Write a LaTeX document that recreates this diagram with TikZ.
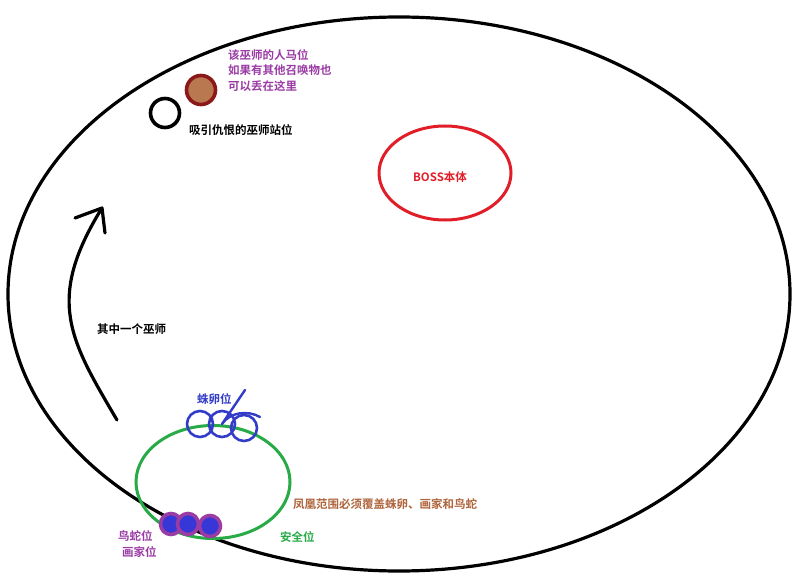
\documentclass[tikz,border=0pt]{standalone}
\usepackage{fontspec}
\setmainfont{Noto Sans CJK SC}[BoldFont={Noto Sans CJK SC Bold}]
\usepackage{tikz}
\usetikzlibrary{%
  positioning
 ,calc
 ,shapes.geometric
}
\definecolor{bossred}{RGB}{225,30,40}
\definecolor{safegreen}{RGB}{40,170,70}
\definecolor{eggblue}{RGB}{50,60,200}
\definecolor{birdblue}{RGB}{55,55,215}
\definecolor{petpurple}{RGB}{155,60,165}
\definecolor{petbrown}{RGB}{185,120,80}
\definecolor{petrim}{RGB}{140,25,25}
\definecolor{notebrown}{RGB}{175,100,60}
\tikzstyle{lbl}=[inner sep=0pt,font=\bfseries\fontsize{11.5}{15.5}\selectfont,anchor=west,align=left]
\tikzstyle{spot}=[circle,line width=3.6pt,minimum size=29pt,inner sep=0pt]
\tikzstyle{egg}=[circle,draw=eggblue,line width=2.6pt,minimum size=26pt,inner sep=0pt]
\tikzstyle{bird}=[circle,draw=petpurple,fill=birdblue,line width=3.6pt,minimum size=21pt,inner sep=0pt]

\begin{document}
\begin{tikzpicture}[x=1pt,y=-1pt]
  \useasboundingbox (0,0) rectangle (800,583);
  \fill[white] (0,0) rectangle (800,583);
  \draw[line width=3.2pt] (399,294) ellipse [x radius=391,y radius=277];
% boss
  \node[ellipse,draw=bossred,line width=3pt,minimum width=132pt,minimum height=94pt] (boss) at (445,173) {};
  \node[lbl,anchor=center,text=bossred] (bosstxt) at (440,177) {BOSS本体};
% tank warlock and pet
  \node[spot,draw=black] (tank) at (165,113) {};
  \node[spot,draw=petrim,fill=petbrown] (pet) at (201,90) {};
  \node[lbl] (tanktxt) at (189,130) {吸引仇恨的巫师站位};
  \node[lbl,anchor=north west,text=petpurple] (pettxt) at (228,49) {该巫师的人马位\\如果有其他召唤物也\\可以丢在这里};
% safe zone
  \node[ellipse,draw=safegreen,line width=3pt,minimum width=154pt,minimum height=113pt] (safe) at (213,482) {};
  \node[egg] (egg1) at (200,424) {};
  \node[egg] (egg2) at (222,424) {};
  \node[egg] (egg3) at (244,428) {};
  \node[lbl,text=eggblue] (eggtxt) at (197,399) {蛛卵位};
  \coordinate (stroke) at (245,390);
  \draw[eggblue,line width=2.4pt,line cap=round,line join=round] (stroke) -- (egg2.center)
    .. controls (230,412) and (248,410) .. (260,417);
  \node[bird] (bird1) at (171,524) {};
  \node[bird] (bird2) at (188,524) {};
  \node[bird] (bird3) at (210,526) {};
  \node[lbl,text=petpurple] (birdtxt) at (118,544) {鸟蛇位\\\hspace*{4pt}画家位};
  \node[lbl,text=notebrown] (notetxt) at (293,504) {凤凰范围必须覆盖蛛卵、画家和鸟蛇};
  \node[lbl,text=safegreen] (safetxt) at (280,537) {安全位};
% moving warlock
  \coordinate (start) at (117,420);
  \coordinate (tip) at (102,208);
  \draw[line width=3.2pt,line cap=round,line join=round] (start)
    .. controls (70,340) and (45,300) .. (tip);
  \draw[line width=3.2pt,line cap=round,line join=round] (75,218) -- (tip) -- (105,233);
  \node[lbl] (walktxt) at (97,329) {其中一个巫师};
\end{tikzpicture}
\end{document}
